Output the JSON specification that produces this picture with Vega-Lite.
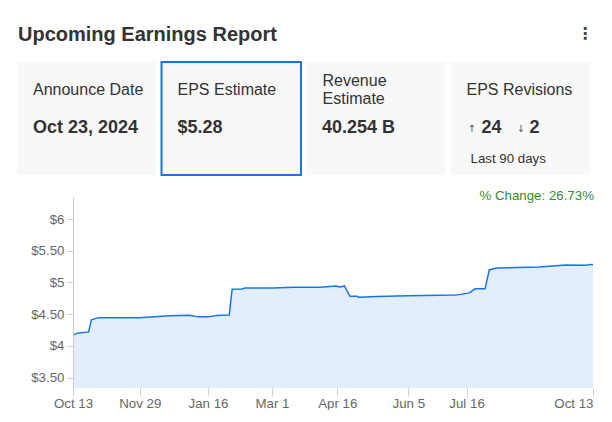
{
  "$schema": "https://vega.github.io/schema/vega-lite/v6.json",
  "background": "white",
  "padding": {"left": 17, "top": 0, "right": 0, "bottom": 0},
  "bounds": "flush",
  "spacing": 22,
  "config": {
    "font": "Liberation Sans",
    "view": {"stroke": null},
    "text": {"color": "#333333", "align": "left", "baseline": "alphabetic"}
  },
  "vconcat": [
    {
      "width": 573,
      "height": 40,
      "data": {"values": [{"title": "Upcoming Earnings Report", "menu": "⋮"}]},
      "layer": [
        {
          "mark": {"type": "text", "x": 1, "y": 41, "fontSize": 20, "fontWeight": "bold", "color": "#333333"},
          "encoding": {"text": {"field": "title"}}
        },
        {
          "mark": {"type": "text", "x": 568, "y": 34, "align": "center", "baseline": "middle", "font": "DejaVu Sans", "fontSize": 16, "fontWeight": "bold", "color": "#444444"},
          "encoding": {"text": {"field": "menu"}}
        }
      ]
    },
    {
      "width": 573,
      "height": 113,
      "data": {
        "values": [
          {"card": "Announce Date", "role": "label", "text": "Announce Date"},
          {"card": "Announce Date", "role": "value", "text": "Oct 23, 2024"},
          {"card": "EPS Estimate", "role": "label", "text": "EPS Estimate"},
          {"card": "EPS Estimate", "role": "value", "text": "$5.28"},
          {"card": "Revenue Estimate", "role": "label2", "text": "Revenue\nEstimate"},
          {"card": "Revenue Estimate", "role": "value", "text": "40.254 B"},
          {"card": "EPS Revisions", "role": "label", "text": "EPS Revisions"},
          {"card": "EPS Revisions", "role": "upArrow", "text": "↑"},
          {"card": "EPS Revisions", "role": "up", "text": "24"},
          {"card": "EPS Revisions", "role": "downArrow", "text": "↓"},
          {"card": "EPS Revisions", "role": "down", "text": "2"},
          {"card": "EPS Revisions", "role": "note", "text": "Last 90 days"}
        ]
      },
      "layer": [
        {
          "transform": [{"filter": "datum.role === 'label' || datum.role === 'label2'"}],
          "mark": {"type": "rect", "fill": "#f8f8f8", "strokeWidth": 2},
          "encoding": {
            "x": {"field": "card", "type": "nominal", "axis": null, "scale": {"domain": ["Announce Date", "EPS Estimate", "Revenue Estimate", "EPS Revisions"], "paddingInner": 0.0348, "paddingOuter": 0}},
            "stroke": {"condition": {"test": "datum.card === 'EPS Estimate'", "value": "#1a73e8"}, "value": null}
          }
        },
        {
          "transform": [{"filter": "datum.role === 'label'"}],
          "mark": {"type": "text", "dx": 16, "y": 33, "fontSize": 16},
          "encoding": {"x": {"field": "card", "type": "nominal", "bandPosition": 0, "axis": null}, "text": {"field": "text"}}
        },
        {
          "transform": [{"filter": "datum.role === 'label2'"}],
          "mark": {"type": "text", "dx": 16.5, "y": 24, "fontSize": 16, "lineBreak": "\n", "lineHeight": 18},
          "encoding": {"x": {"field": "card", "type": "nominal", "bandPosition": 0, "axis": null}, "text": {"field": "text"}}
        },
        {
          "transform": [{"filter": "datum.role === 'value'"}],
          "mark": {"type": "text", "dx": 16, "y": 71, "fontSize": 18, "fontWeight": "bold"},
          "encoding": {"x": {"field": "card", "type": "nominal", "bandPosition": 0, "axis": null}, "text": {"field": "text"}}
        },
        {
          "transform": [{"filter": "datum.role === 'upArrow'"}],
          "mark": {"type": "text", "dx": 17, "y": 70, "font": "DejaVu Sans", "fontSize": 10, "color": "#555555"},
          "encoding": {"x": {"field": "card", "type": "nominal", "bandPosition": 0, "axis": null}, "text": {"field": "text"}}
        },
        {
          "transform": [{"filter": "datum.role === 'up'"}],
          "mark": {"type": "text", "dx": 31, "y": 71, "fontSize": 18, "fontWeight": "bold"},
          "encoding": {"x": {"field": "card", "type": "nominal", "bandPosition": 0, "axis": null}, "text": {"field": "text"}}
        },
        {
          "transform": [{"filter": "datum.role === 'downArrow'"}],
          "mark": {"type": "text", "dx": 66, "y": 70, "font": "DejaVu Sans", "fontSize": 10, "color": "#555555"},
          "encoding": {"x": {"field": "card", "type": "nominal", "bandPosition": 0, "axis": null}, "text": {"field": "text"}}
        },
        {
          "transform": [{"filter": "datum.role === 'down'"}],
          "mark": {"type": "text", "dx": 79, "y": 71, "fontSize": 18, "fontWeight": "bold"},
          "encoding": {"x": {"field": "card", "type": "nominal", "bandPosition": 0, "axis": null}, "text": {"field": "text"}}
        },
        {
          "transform": [{"filter": "datum.role === 'note'"}],
          "mark": {"type": "text", "dx": 20, "y": 101, "fontSize": 13.3},
          "encoding": {"x": {"field": "card", "type": "nominal", "bandPosition": 0, "axis": null}, "text": {"field": "text"}}
        }
      ]
    },
    {
      "width": 577,
      "height": 191,
      "title": {"text": "% Change: 26.73%", "anchor": "end", "frame": "group", "color": "#3a8c1e", "fontSize": 13.3, "fontWeight": "normal", "baseline": "alphabetic", "offset": -16.5},
      "data": {
        "values": [
          {"date": "2023-10-13", "eps": 4.17},
          {"date": "2023-10-16", "eps": 4.2},
          {"date": "2023-10-24", "eps": 4.22},
          {"date": "2023-10-26", "eps": 4.41},
          {"date": "2023-10-31", "eps": 4.445},
          {"date": "2023-11-29", "eps": 4.445},
          {"date": "2023-12-20", "eps": 4.475},
          {"date": "2024-01-03", "eps": 4.483},
          {"date": "2024-01-09", "eps": 4.457},
          {"date": "2024-01-16", "eps": 4.457},
          {"date": "2024-01-22", "eps": 4.48},
          {"date": "2024-01-31", "eps": 4.488},
          {"date": "2024-02-02", "eps": 4.893},
          {"date": "2024-02-09", "eps": 4.898},
          {"date": "2024-02-11", "eps": 4.913},
          {"date": "2024-03-02", "eps": 4.913},
          {"date": "2024-03-16", "eps": 4.924},
          {"date": "2024-04-04", "eps": 4.924},
          {"date": "2024-04-15", "eps": 4.945},
          {"date": "2024-04-18", "eps": 4.929},
          {"date": "2024-04-21", "eps": 4.945},
          {"date": "2024-04-25", "eps": 4.782},
          {"date": "2024-04-30", "eps": 4.782},
          {"date": "2024-05-01", "eps": 4.767},
          {"date": "2024-05-14", "eps": 4.777},
          {"date": "2024-06-05", "eps": 4.79},
          {"date": "2024-07-08", "eps": 4.803},
          {"date": "2024-07-11", "eps": 4.808},
          {"date": "2024-07-18", "eps": 4.835},
          {"date": "2024-07-22", "eps": 4.9},
          {"date": "2024-07-29", "eps": 4.9},
          {"date": "2024-08-01", "eps": 5.197},
          {"date": "2024-08-06", "eps": 5.228},
          {"date": "2024-09-05", "eps": 5.244},
          {"date": "2024-09-24", "eps": 5.276},
          {"date": "2024-10-08", "eps": 5.271},
          {"date": "2024-10-10", "eps": 5.281},
          {"date": "2024-10-13", "eps": 5.285}
        ]
      },
      "mark": {"type": "area", "color": "#e3eefb", "opacity": 1, "clip": true, "line": {"color": "#1a73e8", "strokeWidth": 1.5}},
      "encoding": {
        "x": {
          "field": "date",
          "type": "temporal",
          "scale": {
            "type": "utc",
            "domain": [
              {"year": 2023, "month": 10, "date": 13, "utc": true},
              {"year": 2024, "month": 10, "date": 13, "utc": true}
            ],
            "range": [56, 576]
          },
          "axis": {
            "title": null,
            "grid": false,
            "domain": false,
            "values": [
              {"year": 2023, "month": 10, "date": 13, "utc": true},
              {"year": 2023, "month": 11, "date": 29, "utc": true},
              {"year": 2024, "month": 1, "date": 16, "utc": true},
              {"year": 2024, "month": 3, "date": 1, "utc": true},
              {"year": 2024, "month": 4, "date": 16, "utc": true},
              {"year": 2024, "month": 6, "date": 5, "utc": true},
              {"year": 2024, "month": 7, "date": 16, "utc": true},
              {"year": 2024, "month": 10, "date": 13, "utc": true}
            ],
            "format": "%b %-d",
            "labelAlign": {"condition": {"test": "datum.value > datetime(2024, 8, 1)", "value": "right"}, "value": "center"},
            "labelFlush": false,
            "labelOverlap": false,
            "tickColor": "#cccccc",
            "tickSize": 7,
            "labelPadding": 1,
            "labelColor": "#666666",
            "labelFontSize": 13.3,
            "zindex": 1
          }
        },
        "y": {
          "field": "eps",
          "type": "quantitative",
          "scale": {"domain": [3.335, 6.348], "zero": false, "nice": false},
          "axis": {
            "title": null,
            "grid": false,
            "offset": -56,
            "values": [3.5, 4, 4.5, 5, 5.5, 6],
            "labelExpr": "datum.value % 1 === 0 ? '$' + datum.value : '$' + format(datum.value, '.2f')",
            "domainColor": "#cccccc",
            "tickColor": "#cccccc",
            "tickSize": 6,
            "labelPadding": 3,
            "labelColor": "#666666",
            "labelFontSize": 13.3,
            "zindex": 1
          }
        }
      }
    }
  ]
}
